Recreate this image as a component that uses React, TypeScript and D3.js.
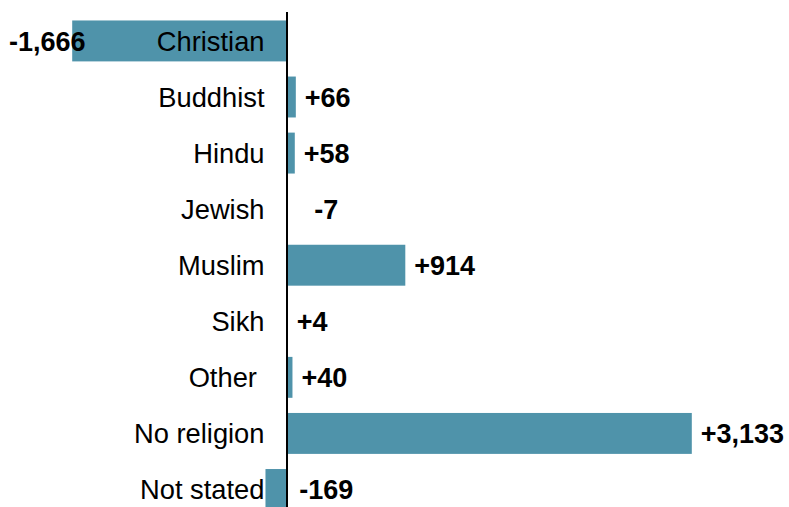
import React from "react";
import * as d3 from "d3";

const categories = ["Christian", "Buddhist", "Hindu", "Jewish", "Muslim", "Sikh", "Other ", "No religion", "Not stated"];
const changes = [-1666, 66, 58, -7, 914, 4, 40, 3133, -169];
const changeLabels = ["-1,666", "+66", "+58", "-7", "+914", "+4", "+40", "+3,133", "-169"];

const W = 789;
const H = 507;
const BAR = "#4f93aa";
const FONT = "'Liberation Sans', Arial, sans-serif";

export default function App() {
  const x = d3.scaleLinear().domain([0, 3133]).range([287.3, 691.8]);
  const y = d3
    .scaleBand<string>()
    .domain(categories)
    .range([12.9, 12.9 + 9 * 56.07])
    .paddingInner(0.27)
    .paddingOuter(0.135);

  const zero = x(0);

  return (
    <svg
      width={W}
      height={H}
      style={{ position: "fixed", left: 0, top: 0, background: "#fff" }}
      fontFamily={FONT}
    >
      {categories.map((c, i) => {
        const v = changes[i];
        const y0 = y(c)!;
        const bw = y.bandwidth();
        const cy = y0 + bw / 2;
        const x0 = Math.min(x(v), zero);
        const x1 = Math.max(x(v), zero);
        let lx: number;
        let anchor: "start" | "middle" | "end";
        if (v >= 0) {
          lx = x1 + 9;
          anchor = "start";
        } else if (v < -1000) {
          lx = x(v) - 25;
          anchor = "middle";
        } else {
          lx = zero + 39;
          anchor = "middle";
        }
        return (
          <g key={c}>
            <rect x={x0} y={y0} width={x1 - x0} height={bw} fill={BAR} />
            <text
              x={264.5}
              y={cy}
              dy="0.36em"
              textAnchor="end"
              fontSize={27.3}
              fill="#000"
              style={{ whiteSpace: "pre" }}
            >
              {c}
            </text>
            <text
              x={lx}
              y={cy}
              dy="0.36em"
              textAnchor={anchor}
              fontSize={27}
              fontWeight="bold"
              fill="#000"
            >
              {changeLabels[i]}
            </text>
          </g>
        );
      })}
      <line x1={zero - 0.3} x2={zero - 0.3} y1={12} y2={H} stroke="#000" strokeWidth={2} />
    </svg>
  );
}
